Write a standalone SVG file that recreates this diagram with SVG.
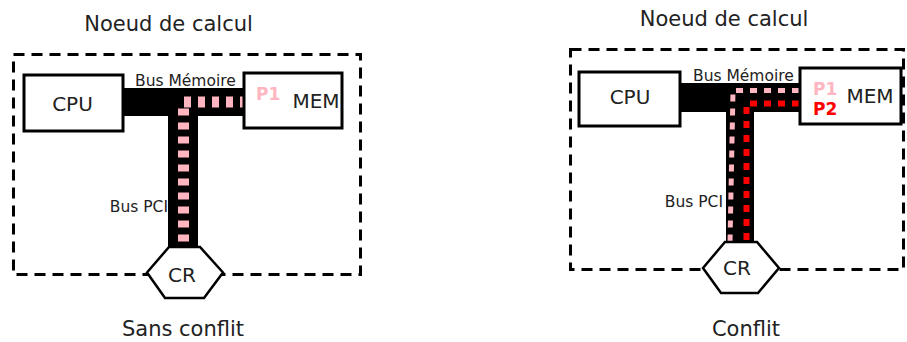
<svg xmlns="http://www.w3.org/2000/svg" width="907" height="342" viewBox="0 0 907 342">
<style>
text{font-family:"DejaVu Sans","Verdana",sans-serif;fill:#222}
.title{font-size:21px;text-anchor:middle}
.lbl{font-size:20px;text-anchor:middle}
.bus{font-size:15.5px}
.p{font-size:17px;font-weight:bold}
.frame{fill:none;stroke:#000;stroke-width:3;stroke-dasharray:11 7}
.box{fill:#fff;stroke:#000;stroke-width:3}
.hex{fill:#fff;stroke:#000;stroke-width:2.5;stroke-linejoin:miter}
.wire{fill:#000}
</style>
<g id="left">
<rect class="frame" x="13.5" y="54.5" width="347" height="220"/>
<text class="title" x="168.5" y="31">Noeud de calcul</text>
<text class="title" x="183" y="336">Sans conflit</text>
</g>
<g id="right">
<rect class="frame" x="570.5" y="49.5" width="333" height="220"/>
<text class="title" x="724" y="26">Noeud de calcul</text>
<text class="title" x="746" y="336">Conflit</text>
</g>
<g id="connectors">
<rect class="wire" x="123" y="88" width="122" height="28"/>
<rect class="wire" x="168" y="88" width="30" height="160"/>
<path d="M247,102 H183.5 V243" fill="none" stroke="#ffb6c1" stroke-width="11" stroke-dasharray="7 7"/>
<text class="bus" x="135" y="86">Bus Mémoire</text>
<text class="bus" x="168" y="212" text-anchor="end">Bus PCI</text>
<rect class="wire" x="680" y="83" width="121" height="29"/>
<rect class="wire" x="726" y="83" width="28" height="161"/>
<path d="M799,90.5 H733 L730,242" fill="none" stroke="#ffb6c1" stroke-width="5" stroke-dasharray="7 7"/>
<path d="M799,103.5 H746.5 V242" fill="none" stroke="#ff0000" stroke-width="6" stroke-dasharray="7 7"/>
<text class="bus" x="693" y="81">Bus Mémoire</text>
<text class="bus" x="723" y="207" text-anchor="end">Bus PCI</text>
</g>
<g id="cpu1">
<rect class="box" x="24" y="75" width="99" height="56"/>
<text class="lbl" x="72.5" y="111">CPU</text>
</g>
<g id="mem1">
<rect class="box" x="244" y="73" width="98" height="55"/>
<text class="lbl" x="316" y="108">MEM</text>
<text class="p" x="256" y="100" fill="#ffb6c1" style="fill:#ffb6c1">P1</text>
</g>
<g id="cr1">
<polygon class="hex" points="169,247 200,247 223,272.5 204,298 165,298 147,272.5"/>
<text class="lbl" x="182" y="282">CR</text>
</g>
<g id="cpu2">
<rect class="box" x="579" y="72" width="101" height="54"/>
<text class="lbl" x="630" y="104">CPU</text>
</g>
<g id="mem2">
<rect class="box" x="800" y="68" width="101" height="56"/>
<text class="lbl" x="870" y="103">MEM</text>
<text class="p" x="813" y="95" style="fill:#ffb6c1">P1</text>
<text class="p" x="813" y="115" style="fill:#ff0000">P2</text>
</g>
<g id="cr2">
<polygon class="hex" points="725,242 757,242 779,268 758,293 721,293 703,268"/>
<text class="lbl" x="737" y="275">CR</text>
</g>
</svg>
